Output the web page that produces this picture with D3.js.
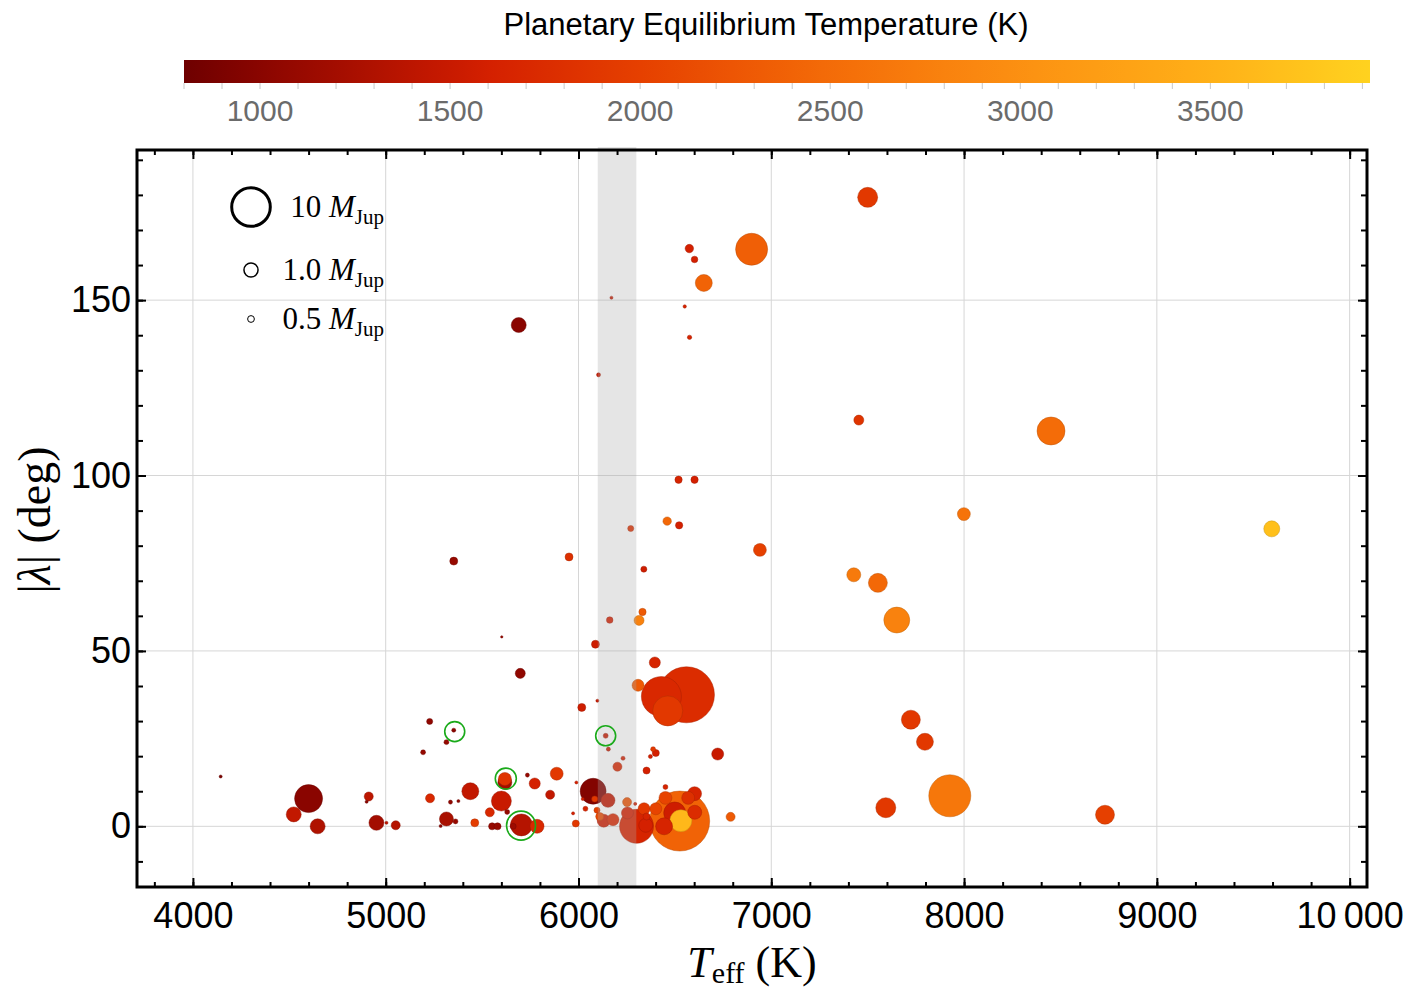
<!DOCTYPE html>
<html>
<head>
<meta charset="utf-8">
<script src="https://cdn.jsdelivr.net/npm/d3@7"></script>
<style>
  body { margin: 0; background: #fff; }
</style>
</head>
<body>
<script>
const width = 1420;
const height = 990;

// stellar effective temperature (K), |lambda| (deg), planet mass (M_Jup), planet Teq (K)
const teff = [7500,6898,6575,6602,6650,6171,6551,5690,6576,6104,7454,8451,6519,6602,7999,9596,6460,6522,6271,6941,
  5951,5353,6339,7428,7553,7651,6332,6314,6162,5602,6088,5698,6396,6309,6560,6430,6463,6017,6098,7724,
  7797,6722,8731,7926,7594,6789,
  4144,4600,4523,4647,4912,4901,4952,5004,5052,
  5228,5353,5315,5194,6141,6155,6231,6202,5618,5618,5735,5887,5989,5773,5853,5439,5230,5336,5377,5600,
  5630,5540,5315,5362,5285,5462,5552,5580,5704,5785,5986,5972,6036,6022,6076,5661,
  6353,6153,6084,6451,6096,6110,6131,6179,6252,6294,6254,6301,6340,6353,6349,6401,6451,6525,6499,6531,
  6444,6569,6602,6603,6387,6401,6373];
const lambda = [179.3,164.5,164.7,161.6,154.9,150.7,148.2,142.9,139.4,128.7,115.8,112.7,98.8,98.8,89.0,84.8,87.0,85.8,84.9,78.8,
  76.8,75.6,73.3,71.7,69.4,58.8,61.1,58.7,58.8,54.0,51.9,43.6,46.7,40.2,37.5,37.0,32.9,33.9,35.8,30.4,
  24.1,20.6,3.3,8.7,5.3,2.7,
  14.2,7.9,3.4,0.0,8.5,7.0,1.0,1.0,0.3,
  29.9,27.4,24.0,21.1,25.8,22.0,19.4,17.0,13.5,12.5,14.6,15.0,12.5,12.2,9.0,10.0,8.0,6.9,7.2,7.2,
  4.1,4.0,2.1,1.4,0.1,1.0,0.0,0.0,0.4,0.0,0.8,3.7,5.0,7.8,10.0,0.0,
  15.9,7.4,7.8,11.2,4.6,2.8,1.6,1.9,6.9,6.4,3.8,0.0,5.0,2.8,0.3,5.0,8.1,1.5,3.8,1.6,
  0.0,8.1,9.3,4.0,22.0,20.9,19.9];
const mass = [1.48,4.3,0.53,0.45,1.13,0.33,0.34,0.95,0.37,0.36,0.61,3.0,0.48,0.48,0.79,1.04,0.53,0.48,0.43,0.79,
  0.51,0.51,0.43,0.87,1.35,2.5,0.48,0.61,0.45,0.30,0.51,0.61,0.67,0.73,36,8.7,3.6,0.51,0.33,1.35,
  1.13,0.73,1.35,10.4,1.48,0.56,
  0.33,3.0,0.95,0.95,0.56,0.33,0.95,0.33,0.56,
  0.43,0.36,0.39,0.39,0.39,0.36,0.36,0.56,0.80,0.87,0.36,0.79,0.33,0.67,0.56,1.13,0.56,0.36,0.33,1.48,
  0.39,0.56,0.87,0.39,0.33,0.51,0.47,0.47,1.76,0.87,0.47,0.33,0.39,0.33,2.5,0.43,
  0.47,0.87,0.43,0.39,0.43,0.51,0.79,0.73,0.56,0.33,0.73,5.1,0.73,0.47,0.87,0.73,0.79,51,1.76,1.76,
  1.13,0.79,0.87,0.87,0.39,0.47,0.36];
const teq = [1900,2350,1600,1600,2400,1500,1650,1000,1650,1500,1850,2500,1650,1600,2600,3700,2450,1600,1800,2000,
  1800,1100,1550,2700,2450,2800,2300,2800,1600,1100,1550,1050,1650,2300,1750,1700,1900,1550,1500,1900,
  1900,1500,2000,2650,1900,2300,
  900,1000,1450,1300,1400,1000,1200,1400,1350,
  1050,1000,1100,1100,1500,1500,1600,1700,1850,1200,1100,1900,1600,1600,1450,1450,1700,1050,1050,1500,
  1100,1700,1250,1100,1000,1950,1100,1100,1350,1700,1900,1600,1650,1600,950,1150,
  1600,1450,1900,1650,2000,2100,1550,1700,2200,1600,1600,1650,1900,1650,1600,2050,2050,2400,1550,3600,
  1650,1800,1650,1750,1900,1600,1600];

// planets marked with green rings
const ringTeff = [5358, 6141, 5623, 5702];
const ringLambda = [27.0, 25.8, 13.6, 0.2];
const ringMass = [0.36, 0.39, 0.87, 1.76];

const bandTeff = [6100, 6300];

const xTicks = [4000, 5000, 6000, 7000, 8000, 9000, 10000];
const yTicks = [0, 50, 100, 150];
const cbTicks = [1000, 1500, 2000, 2500, 3000, 3500];

const legendMass = [10, 1.0, 0.5];
const legendLabel = ["10", "1.0", "0.5"];

const sans = "'Liberation Sans', Arial, sans-serif";
const serif = "'Liberation Serif', 'Times New Roman', serif";

const svg = d3.select("body").append("svg")
  .attr("width", width)
  .attr("height", height);

const plot = {left: 137, right: 1367, top: 150, bottom: 887};

const x = d3.scaleLinear().domain([3710, 10090]).range([plot.left, plot.right]);
const y = d3.scaleLinear().domain([-17.3, 192.8]).range([plot.bottom, plot.top]);
const rLog = d3.scaleLog().domain([1, 10]).range([7.8, 20.8]);
function radius(m) { return Math.max(1.2, rLog(m)); }

const color = d3.scaleLinear()
  .domain([800, 1000, 1500, 1600, 2000, 2500, 3000, 3500, 3920])
  .range(["#6e0000", "#8a0500", "#c81a00", "#d42000", "#e64000", "#f46c08", "#fc9012", "#ffb018", "#ffd21f"]);

// ---- colour bar ----
const cb = d3.scaleLinear().domain([800, 3920]).range([184, 1370]);
const grad = svg.append("defs").append("linearGradient").attr("id", "cbgrad");
d3.range(800, 3921, 80).forEach(function (t) {
  grad.append("stop")
    .attr("offset", (t - 800) / (3920 - 800))
    .attr("stop-color", color(t));
});
svg.append("rect")
  .attr("x", cb(800)).attr("y", 60)
  .attr("width", cb(3920) - cb(800)).attr("height", 23)
  .attr("fill", "url(#cbgrad)");

svg.selectAll(".cbtick")
  .data(d3.range(800, 3901, 100))
  .enter().append("line")
  .attr("x1", d => cb(d)).attr("x2", d => cb(d))
  .attr("y1", 83).attr("y2", 89)
  .attr("stroke", "#c8c8c8").attr("stroke-width", 1);

svg.selectAll(".cblabel")
  .data(cbTicks)
  .enter().append("text")
  .attr("x", d => cb(d)).attr("y", 121)
  .attr("text-anchor", "middle")
  .attr("font-family", sans).attr("font-size", 30)
  .attr("fill", "#6b6b6b")
  .text(d => d);

svg.append("text")
  .attr("x", 766).attr("y", 35)
  .attr("text-anchor", "middle")
  .attr("font-family", sans).attr("font-size", 31)
  .text("Planetary Equilibrium Temperature (K)");

// ---- grid ----
const grid = svg.append("g");
grid.selectAll(".gx").data(xTicks).enter().append("line")
  .attr("x1", d => x(d)).attr("x2", d => x(d))
  .attr("y1", plot.top).attr("y2", plot.bottom)
  .attr("stroke", "#d6d6d6").attr("stroke-width", 1);
grid.selectAll(".gy").data(yTicks).enter().append("line")
  .attr("x1", plot.left).attr("x2", plot.right)
  .attr("y1", d => y(d)).attr("y2", d => y(d))
  .attr("stroke", "#d6d6d6").attr("stroke-width", 1);

// ---- planets ----
const planets = teff.map(function (t, i) {
  return {teff: t, lambda: lambda[i], mass: mass[i], teq: teq[i]};
});
planets.sort((a, b) => b.mass - a.mass);

svg.append("g").selectAll("circle")
  .data(planets)
  .enter().append("circle")
  .attr("cx", d => x(d.teff))
  .attr("cy", d => y(d.lambda))
  .attr("r", d => radius(d.mass))
  .attr("fill", d => color(d.teq))
  .attr("stroke", d => d3.rgb(color(d.teq)).darker(0.8))
  .attr("stroke-opacity", 0.55)
  .attr("stroke-width", 0.8);

// grey band over the points
svg.append("rect")
  .attr("x", x(bandTeff[0])).attr("y", plot.top - 3)
  .attr("width", x(bandTeff[1]) - x(bandTeff[0]))
  .attr("height", plot.bottom - plot.top + 3)
  .attr("fill", "#a8a8a8").attr("opacity", 0.3);

// green rings
svg.append("g").selectAll("circle")
  .data(ringTeff)
  .enter().append("circle")
  .attr("cx", d => x(d))
  .attr("cy", (d, i) => y(ringLambda[i]))
  .attr("r", (d, i) => Math.max(10, radius(ringMass[i]) + 3.5))
  .attr("fill", "none")
  .attr("stroke", "#1aaa1a")
  .attr("stroke-width", 1.6);

// ---- axes ----
function fmtX(d) { return d === 10000 ? "10\u2009000" : d; }

const axes = svg.append("g").attr("font-family", sans);

axes.append("g").attr("transform", "translate(0," + plot.bottom + ")")
  .call(d3.axisBottom(x).tickValues(xTicks).tickSize(-9).tickPadding(15).tickFormat(fmtX));
axes.append("g").attr("transform", "translate(0," + plot.bottom + ")")
  .call(d3.axisBottom(x).tickValues(d3.range(3800, 10001, 200)).tickSize(-5).tickFormat(""));
axes.append("g").attr("transform", "translate(0," + plot.top + ")")
  .call(d3.axisTop(x).tickValues(xTicks).tickSize(-9).tickFormat(""));
axes.append("g").attr("transform", "translate(0," + plot.top + ")")
  .call(d3.axisTop(x).tickValues(d3.range(3800, 10001, 200)).tickSize(-5).tickFormat(""));

axes.append("g").attr("transform", "translate(" + plot.left + ",0)")
  .call(d3.axisLeft(y).tickValues(yTicks).tickSize(-9).tickPadding(6));
axes.append("g").attr("transform", "translate(" + plot.left + ",0)")
  .call(d3.axisLeft(y).tickValues(d3.range(-10, 191, 10)).tickSize(-6).tickFormat(""));
axes.append("g").attr("transform", "translate(" + plot.right + ",0)")
  .call(d3.axisRight(y).tickValues(yTicks).tickSize(-9).tickFormat(""));
axes.append("g").attr("transform", "translate(" + plot.right + ",0)")
  .call(d3.axisRight(y).tickValues(d3.range(-10, 191, 10)).tickSize(-6).tickFormat(""));

axes.selectAll(".domain").remove();
axes.selectAll(".tick line").attr("stroke", "#000").attr("stroke-width", 2);
axes.selectAll(".tick text").attr("font-size", 36).attr("fill", "#000").attr("font-family", sans);

svg.append("rect")
  .attr("x", plot.left).attr("y", plot.top)
  .attr("width", plot.right - plot.left).attr("height", plot.bottom - plot.top)
  .attr("fill", "none").attr("stroke", "#000").attr("stroke-width", 3);

// axis titles
const xt = svg.append("text")
  .attr("x", 752).attr("y", 977)
  .attr("text-anchor", "middle")
  .attr("font-family", serif).attr("font-size", 44);
xt.append("tspan").attr("font-style", "italic").text("T");
xt.append("tspan").attr("font-size", 30).attr("dy", 6).text("eff");
xt.append("tspan").attr("dy", -6).text(" (K)");

const yt = svg.append("text")
  .attr("transform", "translate(50,520) rotate(-90)")
  .attr("text-anchor", "middle")
  .attr("font-family", serif).attr("font-size", 46);
yt.append("tspan").text("|");
yt.append("tspan").attr("font-style", "italic").text("\u03bb");
yt.append("tspan").text("| (deg)");

// ---- size legend ----
const legendY = [207, 270, 319];
const legendStroke = [3, 1.5, 1];
const lg = svg.append("g");
legendMass.forEach(function (m, i) {
  lg.append("circle")
    .attr("cx", 251).attr("cy", legendY[i])
    .attr("r", radius(m) - legendStroke[i] / 2)
    .attr("fill", "#fff")
    .attr("stroke", "#000")
    .attr("stroke-width", legendStroke[i]);
  const t = lg.append("text")
    .attr("x", 384).attr("y", legendY[i] + 10)
    .attr("text-anchor", "end")
    .attr("font-family", serif).attr("font-size", 31);
  t.append("tspan").text(legendLabel[i] + " ");
  t.append("tspan").attr("font-style", "italic").text("M");
  t.append("tspan").attr("font-size", 21).attr("dy", 7).text("Jup");
});
</script>
</body>
</html>
